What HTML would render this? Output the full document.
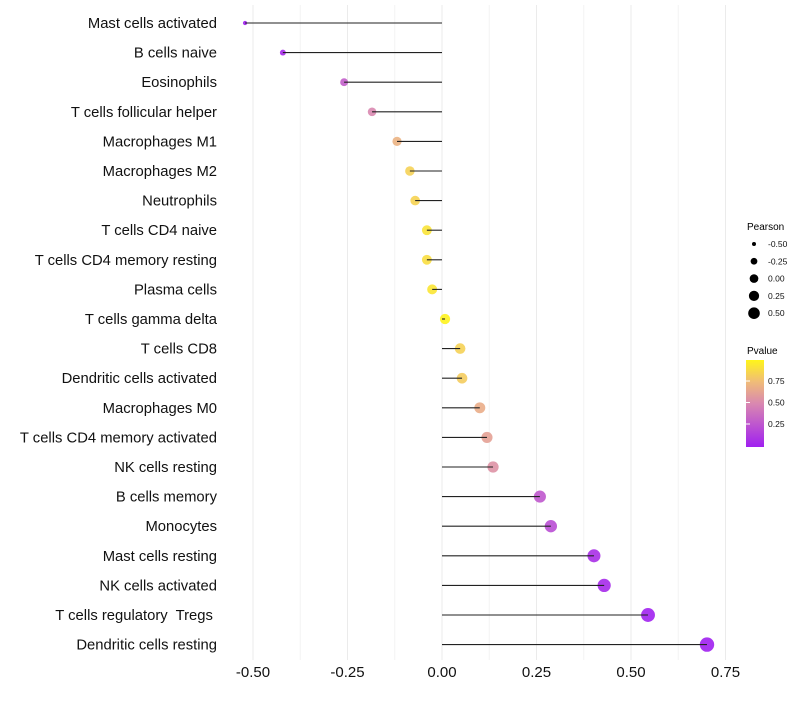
<!DOCTYPE html>
<html><head><meta charset="utf-8"><style>
body{margin:0;background:#fff;font-family:"Liberation Sans",sans-serif;}
text{white-space:pre;}
</style></head><body>
<svg id="chart" width="800" height="700" xmlns="http://www.w3.org/2000/svg" font-family="Liberation Sans, sans-serif">
<defs><linearGradient id="pg" x1="0" y1="1" x2="0" y2="0">
<stop offset="0" stop-color="#A020F0"/><stop offset="0.5" stop-color="#D988B0"/><stop offset="0.75" stop-color="#F0BC78"/><stop offset="1" stop-color="#FFF51A"/></linearGradient></defs>
<g id="grid"></g>
<g id="points"></g>
<g id="marks"></g>
<g id="axes"></g>
<g id="legend">
<text x="747" y="230" font-size="10">Pearson</text>
<text x="747" y="354" font-size="10">Pvalue</text>
<rect x="746" y="360" width="18" height="87" fill="url(#pg)"/>
</g>
</svg>
<script>
const categories=["Mast cells activated","B cells naive","Eosinophils","T cells follicular helper","Macrophages M1","Macrophages M2","Neutrophils","T cells CD4 naive","T cells CD4 memory resting","Plasma cells","T cells gamma delta","T cells CD8","Dendritic cells activated","Macrophages M0","T cells CD4 memory activated","NK cells resting","B cells memory","Monocytes","Mast cells resting","NK cells activated","T cells regulatory  Tregs ","Dendritic cells resting"];
const pearson=[-0.521,-0.421,-0.259,-0.185,-0.119,-0.085,-0.071,-0.040,-0.040,-0.026,0.008,0.048,0.053,0.100,0.119,0.135,0.259,0.288,0.402,0.429,0.545,0.701];
const pvalue=[0.0,0.05,0.3,0.5,0.7,0.84,0.85,0.92,0.9,0.93,0.99,0.84,0.82,0.68,0.62,0.55,0.27,0.22,0.07,0.05,0.01,0.0];
const xTicks=[-0.5,-0.25,0,0.25,0.5,0.75];
const xTickLabels=["-0.50","-0.25","0.00","0.25","0.50","0.75"];
const sizeLegend=[-0.5,-0.25,0,0.25,0.5];
const sizeLegendLabels=["-0.50","-0.25","0.00","0.25","0.50"];
const colorLegend=[0.25,0.5,0.75];
const colorLegendLabels=["0.25","0.50","0.75"];
const NS="http://www.w3.org/2000/svg";
const xs=v=>442+v*378;
const ys=i=>23+i*29.6;
const rs=v=>Math.min(7.2,Math.sqrt(Math.max(2.5,26+41*v)));
function lerp(a,b,t){return a.map((c,i)=>Math.round(c+(b[i]-c)*t));}
function col(p){const st=[[0,[160,32,240]],[0.5,[217,136,176]],[0.75,[240,188,120]],[1,[255,245,26]]];p=Math.max(0,Math.min(1,p));
for(let k=0;k<st.length-1;k++){if(p<=st[k+1][0]){const t=(p-st[k][0])/(st[k+1][0]-st[k][0]);return "rgb("+lerp(st[k][1],st[k+1][1],t).join(",")+")";}}return "rgb(255,245,26)";}
function mk(tag,at,parent){const e=document.createElementNS(NS,tag);for(const k in at)e.setAttribute(k,at[k]);document.getElementById(parent).appendChild(e);return e;}
for(let v=-0.5;v<=0.751;v+=0.125){const g=mk("line",{x1:xs(v),x2:xs(v),y1:5,y2:660,stroke:Math.abs(v/0.25-Math.round(v/0.25))<1e-6?"#ebebeb":"#f4f4f4","stroke-width":1},"grid");

}
xTicks.forEach((v,i)=>{const t=mk("text",{x:xs(v),y:677,"font-size":15,"text-anchor":"middle",fill:"#111"},"axes");t.textContent=xTickLabels[i];

});
categories.forEach((c,i)=>{const t=mk("text",{x:217,y:ys(i)+5,"font-size":14.8,"text-anchor":"end",fill:"#111"},"axes");t.textContent=c;


const p=mk("circle",{cx:xs(pearson[i]),cy:ys(i),r:rs(pearson[i]),fill:col(pvalue[i]),"fill-opacity":0.9},"points");


const l=mk("line",{x1:xs(0),x2:xs(pearson[i]),y1:ys(i),y2:ys(i),stroke:"#222","stroke-width":1.1},"marks");

});
sizeLegend.forEach((v,i)=>{const y=244+i*17.3;const c=mk("circle",{cx:754,cy:y,r:rs(v)*0.85,fill:"#000"},"legend");


const t=mk("text",{x:768,y:y+3,"font-size":8.5,fill:"#111"},"legend");t.textContent=sizeLegendLabels[i];

});
colorLegend.forEach((v,i)=>{const y=445.5-v*86;const t=mk("text",{x:768,y:y+3,"font-size":8.5,fill:"#111"},"legend");t.textContent=colorLegendLabels[i];


const tk=mk("line",{x1:746,x2:750,y1:y,y2:y,stroke:"#fff"},"legend");

});
</script>
</body></html>
